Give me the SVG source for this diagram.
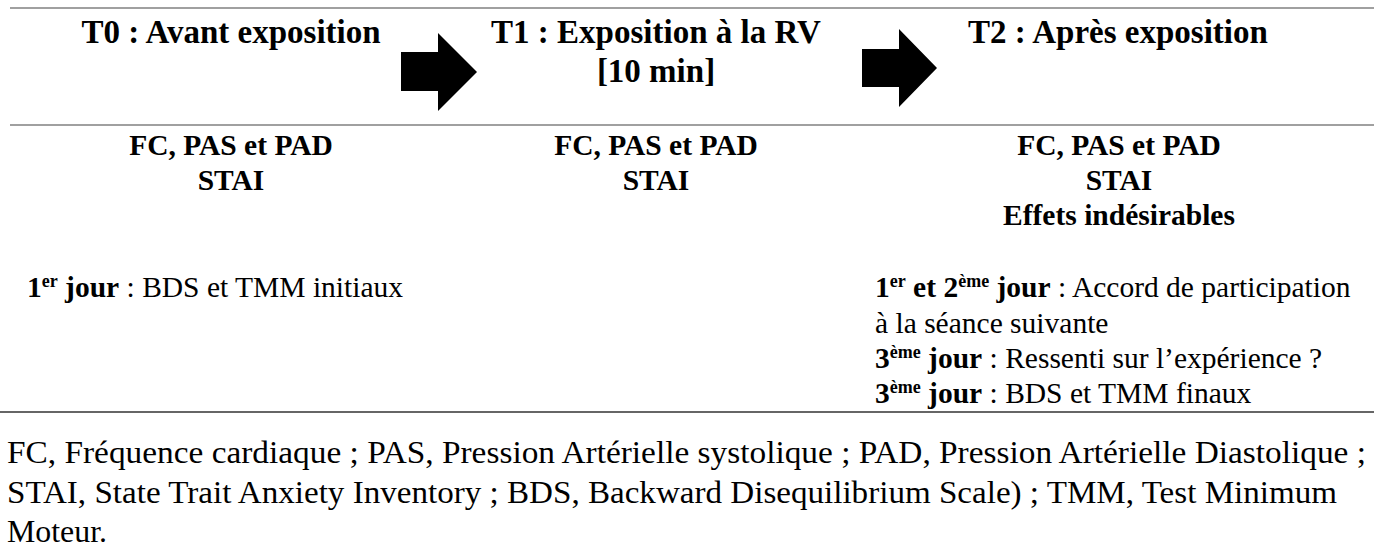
<svg xmlns="http://www.w3.org/2000/svg" width="1374" height="548" viewBox="0 0 1374 548">
<defs>
<style>
.h{font-size:33px;font-weight:bold;text-anchor:middle}
.b{font-size:29.5px;font-weight:bold;text-anchor:middle}
.r{font-size:29.5px}
.f{font-size:31px}
.bo{font-weight:bold}
.sup{font-size:18px;font-weight:bold}
.rule{stroke:#a0a0a0;stroke-width:2}
.arrow{fill:#000}
</style>
</defs>
<rect width="1374" height="548" fill="#fff"/>
<g id="rules">
<line class="rule" x1="10" y1="8" x2="1374" y2="8"/>
<line class="rule" x1="10" y1="125" x2="1374" y2="125"/>
<line class="rule" x1="0" y1="412" x2="1374" y2="412" style="stroke:#666"/>
</g>
<g id="connectors">
<polygon class="arrow" points="401,52 438,52 438,33 477,72 438,111 438,91 401,91"/>
<polygon class="arrow" points="862,49 899,49 899,29 937,68 899,107 899,87 862,87"/>
</g>
<g id="T0" font-family="Liberation Serif, serif">
<text class="h" x="231" y="43">T0 : Avant exposition</text>
<text class="b" x="231" y="155">FC, PAS et PAD</text>
<text class="b" x="231" y="190">STAI</text>
<text class="r" x="27" y="297"><tspan class="bo">1</tspan><tspan class="sup" dy="-10">er</tspan><tspan class="bo" dy="10"> jour</tspan> : BDS et TMM initiaux</text>
</g>
<g id="T1" font-family="Liberation Serif, serif">
<text class="h" x="656" y="43">T1 : Exposition à la RV</text>
<text class="h" x="656" y="82">[10 min]</text>
<text class="b" x="656" y="155">FC, PAS et PAD</text>
<text class="b" x="656" y="190">STAI</text>
</g>
<g id="T2" font-family="Liberation Serif, serif">
<text class="h" x="1118" y="43">T2 : Après exposition</text>
<text class="b" x="1119" y="155">FC, PAS et PAD</text>
<text class="b" x="1119" y="190">STAI</text>
<text class="b" x="1119" y="225">Effets indésirables</text>
<text class="r" x="875" y="297"><tspan class="bo">1</tspan><tspan class="sup" dy="-10">er</tspan><tspan class="bo" dy="10"> et 2</tspan><tspan class="sup" dy="-10">ème</tspan><tspan class="bo" dy="10"> jour</tspan> : Accord de participation</text>
<text class="r" x="875" y="333">à la séance suivante</text>
<text class="r" x="875" y="368"><tspan class="bo">3</tspan><tspan class="sup" dy="-10">ème</tspan><tspan class="bo" dy="10"> jour</tspan> : Ressenti sur l’expérience ?</text>
<text class="r" x="875" y="403"><tspan class="bo">3</tspan><tspan class="sup" dy="-10">ème</tspan><tspan class="bo" dy="10"> jour</tspan> : BDS et TMM finaux</text>
</g>
<g id="legend" font-family="Liberation Serif, serif">
<text class="f" x="7" y="463" textLength="1359" lengthAdjust="spacingAndGlyphs">FC, Fréquence cardiaque ; PAS, Pression Artérielle systolique ; PAD, Pression Artérielle Diastolique ;</text>
<text class="f" x="7" y="503" textLength="1330" lengthAdjust="spacingAndGlyphs">STAI, State Trait Anxiety Inventory ; BDS, Backward Disequilibrium Scale) ; TMM, Test Minimum</text>
<text class="f" x="7" y="542" textLength="100" lengthAdjust="spacingAndGlyphs">Moteur.</text>
</g>
</svg>
